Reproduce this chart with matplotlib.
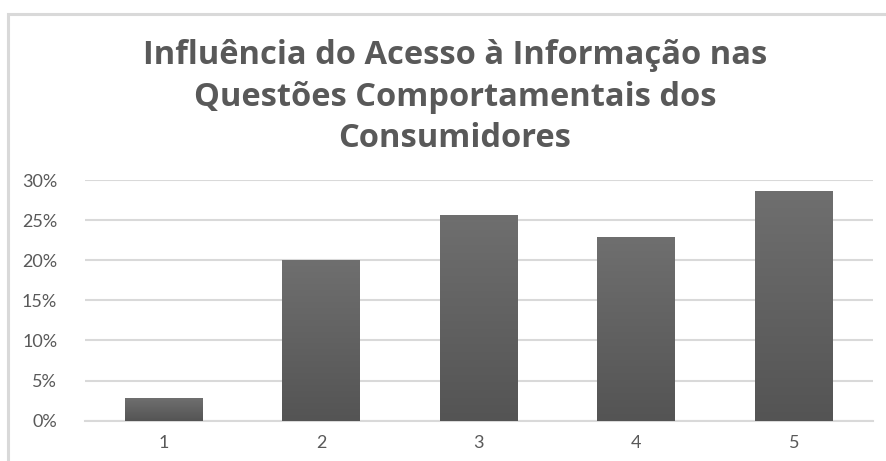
import numpy as np
import matplotlib.pyplot as plt
from matplotlib.patches import Rectangle
from matplotlib.colors import LinearSegmentedColormap
from matplotlib.ticker import PercentFormatter

# data
categories = ["1", "2", "3", "4", "5"]
values = [0.028, 0.200, 0.257, 0.229, 0.286]
title = "Influência do Acesso à Informação nas\nQuestões Comportamentais dos\nConsumidores"

text_color = "#595959"
grid_color = "#d9d9d9"

fig = plt.figure(figsize=(8.87, 4.61), dpi=100)
fig.patch.set_facecolor("white")

# outer chart border (top and left visible)
fig.patches.append(Rectangle((0.0095, -0.05), 1.2, 1.02, transform=fig.transFigure,
                             fill=False, edgecolor=grid_color, linewidth=2.2))

ax = fig.add_axes([0.0958, 0.0874, 0.8882, 0.5221])

x = np.arange(len(categories))
bars = ax.bar(x, values, width=0.495, color="#5f5f5f", zorder=3)

# vertical gradient on each bar, lighter at the top
grad = np.linspace(0, 1, 256).reshape(-1, 1)
cmap = LinearSegmentedColormap.from_list("g", ["#545454", "#6f6f6f"])
for b in bars:
    x0, y0 = b.get_x(), b.get_y()
    w, h = b.get_width(), b.get_height()
    im = ax.imshow(grad, extent=[x0, x0 + w, y0, y0 + h], origin="lower",
                   cmap=cmap, aspect="auto", zorder=4)
    im.set_clip_path(b)

ax.set_xlim(-0.5, len(categories) - 0.5)
ax.set_ylim(0, 0.30)
ax.set_yticks(np.arange(0, 0.31, 0.05))
ax.yaxis.set_major_formatter(PercentFormatter(1.0, decimals=0))
ax.set_xticks(x)
ax.set_xticklabels(categories)

ax.grid(axis="y", color=grid_color, linewidth=1.5, zorder=0)
ax.set_axisbelow(True)
for side in ["top", "right", "left"]:
    ax.spines[side].set_visible(False)
ax.spines["bottom"].set_color(grid_color)
ax.spines["bottom"].set_linewidth(1.5)
ax.tick_params(length=0, labelsize=13, labelcolor=text_color, pad=10)
ax.tick_params(axis="y", pad=20)
for lab in ax.get_xticklabels() + ax.get_yticklabels():
    lab.set_fontfamily(["Lato", "DejaVu Sans"])

fig.text(0.513, 0.789, title, ha="center", va="center", fontsize=23.5,
         fontweight="bold", color=text_color, linespacing=1.34,
         family=["Open Sans", "DejaVu Sans"])

fig.savefig("out.png", dpi=100)
